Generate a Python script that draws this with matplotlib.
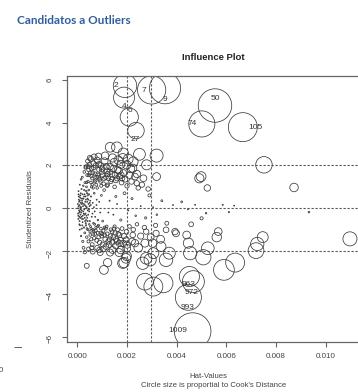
import numpy as np
import matplotlib.pyplot as plt

# labelled observations (hat values in units of 1e-3)
lab_names = ["2", "4", "6", "27", "7", "9", "50", "74", "105", "963", "972", "993", "1009"]
lab_hat_e3 = [1.92, 1.88, 2.09, 2.36, 2.99, 3.53, 5.54, 5.01, 6.66, 4.51, 4.67, 4.47, 4.64]
lab_rs = [5.72, 5.17, 4.26, 3.63, 5.53, 5.61, 4.80, 3.94, 3.79, -3.19, -3.43, -4.16, -5.74]
# where the id text sits
txt_hat_e3 = [1.56, 1.88, 2.10, 2.32, 2.66, 3.53, 5.54, 4.63, 7.18, 4.47, 4.58, 4.43, 4.06]
txt_rs = [5.73, 4.75, 4.57, 3.20, 5.49, 5.07, 5.11, 3.94, 3.79, -3.55, -3.94, -4.63, -5.73]

# dense core near hat = 0
core_hat_e3 = [0.05, 0.08, 0.10, 0.12, 0.06, 0.15, 0.18, 0.20, 0.09, 0.22,
               0.25, 0.14, 0.28, 0.30, 0.11, 0.33, 0.17, 0.35, 0.21, 0.38,
               0.40, 0.24, 0.42, 0.27, 0.45, 0.48, 0.31, 0.50, 0.36, 0.52,
               0.04, 0.07, 0.13, 0.16, 0.19, 0.23, 0.26, 0.29, 0.32, 0.34,
               0.37, 0.39, 0.41, 0.44, 0.46, 0.49, 0.53, 0.55, 0.58, 0.60,
               0.62, 0.65, 0.68, 0.70, 0.73, 0.75, 0.78, 0.80, 0.83, 0.86,
               0.03, 0.10, 0.14, 0.20, 0.27, 0.35, 0.43, 0.51, 0.57, 0.64,
               0.12, 0.18, 0.24, 0.30, 0.36, 0.40, 0.47, 0.54, 0.61, 0.67,
               0.72, 0.77, 0.82, 0.88, 0.92, 0.97, 1.02, 1.08, 1.15, 1.22,
               0.10, 0.15, 0.22, 0.25, 0.30, 0.18, 0.08, 0.05, 0.10, 0.15,
               0.02, 0.04, 0.06, 0.07, 0.09, 0.11, 0.13, 0.16, 0.19, 0.21,
               0.23, 0.26, 0.28, 0.31, 0.33, 0.37, 0.39, 0.42, 0.44, 0.47,
               0.03, 0.05, 0.08, 0.12, 0.17, 0.22, 0.29, 0.34, 0.41, 0.50]
core_rs = [0.10, -0.20, 0.35, -0.45, 0.55, 0.05, -0.10, 0.25, -0.60, -0.35,
           0.45, 0.70, -0.05, 0.15, -0.80, -0.25, 0.90, 0.40, -0.65, 0.05,
           -0.45, 1.05, 0.60, -0.90, 0.20, -0.15, 1.20, -0.60, 0.80, 0.35,
           -0.35, 0.30, -0.05, 0.45, -0.50, 0.10, -0.25, 0.65, 0.30, -0.70,
           1.00, -0.95, 0.45, -0.30, 0.85, 0.10, -0.85, 0.55, -0.40, 1.10,
           0.25, -0.70, 0.70, -0.15, 1.30, -1.05, 0.40, 0.95, -0.55, 1.45,
           0.00, -0.15, 0.25, -0.80, 0.55, -0.55, 1.25, -1.10, 1.50, -1.20,
           0.60, 0.20, -0.15, -0.45, 0.00, 0.30, -0.05, 0.15, -0.25, 0.05,
           -0.40, 0.15, -0.85, 0.30, -0.20, 0.60, -0.60, 0.85, -0.95, 1.10,
           -1.00, -1.30, -1.55, -1.85, -2.05, -0.95, -0.75, 0.80, 1.10, 1.35,
           0.20, -0.50, 0.40, -0.10, 0.15, 0.50, -0.30, -0.20, 0.35, 0.65,
           -0.50, 0.20, 0.85, -0.60, 0.55, -0.35, 0.70, -0.10, 0.40, 0.65,
           -0.25, 0.65, -0.40, 0.05, -0.40, 0.45, -0.30, 0.10, -0.60, 0.25]

# sparse middle (residual near 0, larger hat)
mid_hat_e3 = [1.30, 1.45, 1.60, 1.75, 1.90, 2.05, 2.20, 2.35, 2.55, 2.75,
              2.90, 3.05, 3.20, 3.40, 3.60, 3.85, 4.20, 4.45, 1.25, 1.55,
              5.85, 6.31, 9.32, 4.74, 6.10]
mid_rs = [0.35, -0.30, 0.20, -0.55, 0.70, -0.10, 0.45, -0.35, 0.10, -0.45,
          0.60, 0.05, -0.30, 0.35, -0.70, 0.15, 0.30, -0.05, -0.20, 0.55,
          0.16, 0.12, -0.18, 0.16, -0.18]

# upper arm
up_hat_e3 = [0.20, 0.28, 0.35, 0.42, 0.50, 0.58, 0.65, 0.72, 0.80, 0.88,
             0.95, 1.02, 1.10, 1.18, 1.25, 1.32, 1.40, 1.48, 1.55, 1.62,
             1.70, 1.78, 1.85, 1.92, 2.00, 2.10, 2.18, 2.45, 2.60, 2.85,
             0.46, 0.55, 0.62, 0.70, 0.78, 0.90, 0.98, 1.06, 1.15, 1.35,
             0.33, 0.55, 0.68, 0.85, 1.12, 1.42, 1.65, 1.75, 2.05, 0.48,
             2.79, 3.19, 2.50, 3.19, 2.66, 2.32, 2.39, 2.25, 1.99, 1.32,
             1.59, 1.85, 1.83, 0.44, 2.23, 7.51, 4.98, 4.91, 5.23, 8.72,
             0.38, 0.45, 0.52, 0.60, 0.66, 0.74, 0.82, 0.87, 0.93, 1.00,
             1.08, 1.16, 1.22, 1.30, 1.38, 1.45, 1.52, 1.60, 1.68, 1.76,
             0.57, 0.76, 0.96, 1.20, 1.50, 1.80, 2.15, 2.40, 0.40, 0.64]
up_rs = [1.45, 1.70, 1.95, 2.20, 2.35, 1.85, 2.10, 1.60, 2.25, 1.80,
         2.00, 1.55, 2.20, 1.75, 1.40, 1.95, 1.60, 2.15, 1.30, 1.80,
         1.50, 1.20, 1.65, 1.35, 1.05, 1.55, 1.25, 0.95, 1.10, 0.90,
         1.55, 1.20, 1.65, 1.25, 1.45, 1.35, 1.70, 1.15, 1.45, 1.25,
         1.90, 2.30, 2.40, 2.42, 2.45, 2.35, 2.25, 2.05, 2.30, 2.05,
         2.03, 2.46, 2.52, 1.48, 1.40, 1.48, 1.17, 2.18, 2.03, 2.85,
         2.85, 2.57, 2.34, 1.95, 1.87, 2.03, 1.48, 1.40, 0.95, 0.97,
         1.20, 1.80, 1.65, 1.40, 1.90, 2.00, 1.55, 2.05, 1.25, 1.85,
         1.40, 1.95, 1.60, 1.70, 1.35, 1.85, 1.55, 1.40, 1.75, 1.55,
         1.00, 1.10, 1.05, 1.05, 1.00, 1.40, 1.85, 1.60, 1.55, 0.95]

# lower arm
lo_hat_e3 = [0.30, 0.38, 0.45, 0.52, 0.60, 0.68, 0.75, 0.82, 0.90, 0.98,
             1.05, 1.12, 1.20, 1.28, 1.35, 1.45, 1.52, 1.60, 1.70, 1.80,
             1.88, 1.98, 2.10, 2.25, 2.40, 2.55, 2.70, 2.95, 3.15, 3.35,
             0.62, 0.89, 1.15, 1.42, 1.69, 1.96, 2.23, 2.77, 3.17, 3.57,
             3.97, 1.83, 1.96, 2.77, 3.03, 3.37, 3.57, 0.38, 1.07, 1.22,
             1.88, 1.99, 1.68, 1.32, 0.92, 2.32, 2.72, 3.06, 4.47, 1.99,
             0.55, 0.65, 0.85, 0.95, 1.00, 1.10, 1.40, 1.50, 1.62, 0.72,
             10.97, 7.46, 7.24, 7.19, 5.67, 5.61, 5.25, 5.07, 6.35, 5.90,
             4.54, 4.40, 3.93, 4.58, 5.00, 5.18, 2.93, 3.70, 2.63, 2.72,
             3.06, 3.46,
             0.35, 0.42, 0.48, 0.56, 0.63, 0.70, 0.78, 0.86, 0.94, 1.02,
             1.10, 1.18, 1.25, 1.33, 1.40, 1.48, 1.56, 1.65, 1.74, 1.85,
             0.45, 0.58, 0.80, 1.05, 1.30, 1.55, 1.75, 2.00, 2.20, 2.45]
lo_rs = [-1.15, -1.35, -1.55, -1.25, -1.70, -1.40, -0.90, -1.15, -1.60, -1.30,
         -1.05, -1.45, -1.20, -1.70, -1.00, -1.35, -1.15, -1.55, -1.25, -0.95,
         -1.30, -1.10, -0.85, -1.00, -0.75, -1.30, -0.90, -1.35, -0.80, -1.45,
         -2.03, -1.95, -1.79, -1.95, -1.64, -1.48, -1.25, -1.09, -1.17, -1.01,
         -1.17, -2.57, -2.34, -2.34, -1.63, -1.79, -2.41, -2.69, -2.88, -2.54,
         -2.54, -2.23, -2.07, -2.07, -2.07, -1.63, -1.63, -2.10, -1.63, -1.87,
         -0.95, -1.05, -0.80, -0.95, -1.20, -0.90, -1.10, -0.85, -1.00, -1.20,
         -1.43, -1.35, -1.67, -1.98, -1.09, -1.35, -1.87, -2.29, -2.54, -2.88,
         -2.10, -1.25, -1.09, -0.75, -0.47, -0.23, -2.41, -2.10, -2.57, -3.43,
         -3.66, -3.50,
         -0.80, -1.00, -0.75, -1.45, -1.00, -0.75, -1.50, -1.35, -1.15, -1.70,
         -1.25, -0.85, -1.55, -1.30, -1.60, -0.95, -1.45, -1.20, -1.50, -1.65,
         -1.90, -1.85, -1.85, -1.90, -1.45, -1.75, -1.95, -1.70, -1.55, -1.85]

mean_hat = 0.00099


def main():
    hat = np.concatenate([lab_hat_e3, core_hat_e3, mid_hat_e3, up_hat_e3, lo_hat_e3]) * 1e-3
    rs = np.concatenate([lab_rs, core_rs, mid_rs, up_rs, lo_rs])
    # cook's distance (up to a constant) -> circle radius
    cook = rs ** 2 * hat / (1 - hat)
    r_px = 18.3 * np.sqrt(cook / cook.max())
    s = (1.44 * np.maximum(r_px, 0.5)) ** 2

    fig = plt.figure(figsize=(3.58, 3.92), dpi=100)
    ax = fig.add_axes([66.7 / 358, 50 / 392, 292.7 / 358, 266 / 392])
    ax.set_xlim(-0.000427, 0.01135)
    ax.set_ylim(-6.25, 6.18)

    gcol = "#555555"
    for yv in (-2, 0, 2):
        ax.axhline(yv, color=gcol, lw=0.8, ls=(0, (2, 1.6)), zorder=1)
    for xv in (2 * mean_hat, 3 * mean_hat):
        ax.axvline(xv, color=gcol, lw=0.8, ls=(0, (2, 1.6)), zorder=1)

    ax.scatter(hat, rs, s=s, facecolors="none", edgecolors="#3a3a3a", linewidths=0.55, zorder=2)

    for name, xh, yr in zip(lab_names, txt_hat_e3, txt_rs):
        ax.text(xh * 1e-3, yr, name, fontsize=6, color="#333333", ha="center", va="center",
                family="Liberation Sans", zorder=3)

    for sp in ax.spines.values():
        sp.set_color("#666666")
        sp.set_linewidth(0.9)
    ax.set_xticks([0, 0.002, 0.004, 0.006, 0.008, 0.010])
    ax.set_xticklabels(["0.000", "0.002", "0.004", "0.006", "0.008", "0.010"])
    ax.set_yticks([-6, -4, -2, 0, 2, 4, 6])
    ax.tick_params(length=3.6, width=0.8, color="#666666", labelsize=5.8, labelcolor="#444444")
    ax.tick_params(axis="x", pad=4.5)
    ax.tick_params(axis="y", pad=5.5, labelrotation=90)
    for lbl in ax.get_xticklabels() + ax.get_yticklabels():
        lbl.set_family("Liberation Sans")

    fig.text(17 / 358, 1 - 20 / 392, "Candidatos a Outliers", color="#2f5e9e", fontsize=8.5,
             fontweight="bold", family="Lato", va="center")
    fig.text(213.7 / 358, 1 - 57 / 392, "Influence Plot", fontsize=6.8, fontweight="bold",
             family="Liberation Sans", ha="center", va="center", color="#222222")
    fig.text(31 / 358, 1 - 209 / 392, "Studentized Residuals", rotation=90, fontsize=5.6,
             family="Liberation Sans", ha="center", va="center", color="#444444")
    fig.text(208 / 358, 1 - 376 / 392, "Hat-Values", fontsize=5.6,
             family="Liberation Sans", ha="center", va="center", color="#444444")
    fig.text(214 / 358, 1 - 385.5 / 392, "Circle size is proportial to Cook's Distance", fontsize=5.6,
             family="Liberation Sans", ha="center", va="center", color="#444444")
    # stray marks at the left of the slide
    fig.text(18 / 358, 1 - 348 / 392, "\u2014", fontsize=6, color="#333333", ha="center", va="center")
    fig.text(-1 / 358, 1 - 370 / 392, "0", fontsize=5.6, color="#444444", ha="left", va="center",
             family="Liberation Sans")

    fig.savefig("out.png", dpi=100)


if __name__ == "__main__":
    main()
